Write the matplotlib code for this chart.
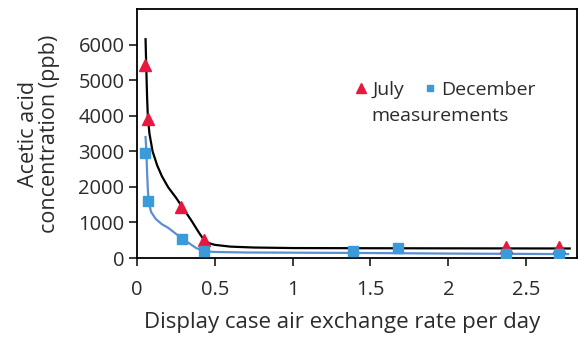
import matplotlib
matplotlib.use("Agg")
import matplotlib.pyplot as plt
from matplotlib.lines import Line2D

# -------------------------------------------------------------
# Data
# -------------------------------------------------------------
july_x = [0.05, 0.07, 0.28, 0.43, 2.37, 2.71]
july_y = [5420, 3900, 1440, 510, 310, 300]

dec_x = [0.05, 0.07, 0.29, 0.43, 1.39, 1.68, 2.37, 2.71]
dec_y = [2950, 1600, 540, 190, 190, 270, 100, 100]

# fitted trend lines (traced)
july_fit_x = [0.055, 0.06, 0.065, 0.07, 0.08, 0.1, 0.13, 0.16, 0.2, 0.25, 0.29,
              0.35, 0.4, 0.43, 0.46, 0.5, 0.6, 0.75, 1.0, 1.5, 2.0, 2.4, 2.78]
july_fit_y = [6150, 5300, 4500, 3950, 3500, 3000, 2600, 2300, 1990, 1700, 1440,
              1050, 700, 510, 420, 370, 320, 295, 280, 275, 272, 270, 268]

dec_fit_x = [0.055, 0.06, 0.065, 0.07, 0.075, 0.09, 0.12, 0.16, 0.2, 0.25, 0.29,
             0.33, 0.38, 0.43, 0.5, 0.7, 1.0, 1.5, 2.0, 2.5, 2.77]
dec_fit_y = [3400, 3000, 2400, 1900, 1600, 1300, 1100, 950, 850, 680, 550,
             430, 280, 190, 170, 155, 150, 140, 125, 115, 110]

x_ticks = [0, 0.5, 1, 1.5, 2, 2.5]
x_tick_labels = ["0", "0.5", "1", "1.5", "2", "2.5"]
y_ticks = [0, 1000, 2000, 3000, 4000, 5000, 6000]

red = "#e8173f"
blue = "#3b9ad8"
txt = "#2b2b2b"

plt.rcParams['font.family'] = ['Open Sans', 'DejaVu Sans']

fig = plt.figure(figsize=(5.79, 3.39), dpi=100)
ax = fig.add_axes([0.2366, 0.2389, 0.7608, 0.7346])

ax.plot(july_fit_x, july_fit_y, color="black", lw=1.6, zorder=2)
ax.plot(dec_fit_x, dec_fit_y, color="#5b8fd0", lw=1.6, zorder=2)
ax.plot(july_x, july_y, linestyle="none", marker="^", ms=8, color=red, zorder=3)
ax.plot(dec_x, dec_y, linestyle="none", marker="s", ms=6.5, color=blue, zorder=3)

ax.set_xlim(0, 2.83)
ax.set_ylim(0, 7000)
ax.set_xticks(x_ticks)
ax.set_xticklabels(x_tick_labels)
ax.set_yticks(y_ticks)
ax.tick_params(axis="both", direction="out", length=6, width=1.3,
               labelsize=14.5, colors=txt, pad=3)
ax.tick_params(axis="x", pad=10)
for s in ax.spines.values():
    s.set_linewidth(1.3)
    s.set_color("black")

ax.set_xlabel("Display case air exchange rate per day", fontsize=16, color=txt)
ax.xaxis.set_label_coords(0.465, -0.215)
ax.set_ylabel("Acetic acid\nconcentration (ppb)", fontsize=15.5, color=txt,
              labelpad=13, linespacing=1.0)

handles = [Line2D([], [], linestyle="none", marker="^", ms=6.5, color=red),
           Line2D([], [], linestyle="none", marker="s", ms=5, color=blue)]
ax.legend(handles, ["July", "December"], ncol=2, frameon=False,
          loc="center left", bbox_to_anchor=(0.456, 0.676), fontsize=14,
          handlelength=0.6, handletextpad=0.3, columnspacing=1.0,
          labelcolor=txt)
ax.text(0.532, 0.572, "measurements", transform=ax.transAxes, fontsize=14,
        color=txt, ha="left", va="center")

fig.savefig("out.png", dpi=100)
